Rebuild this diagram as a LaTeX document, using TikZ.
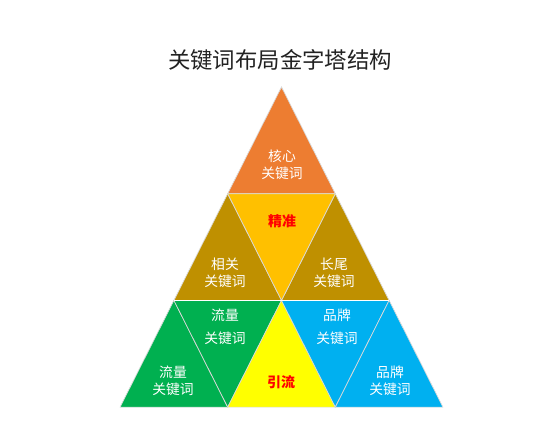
\documentclass[tikz,border=0pt]{standalone}
\usepackage{fontspec}
\setmainfont{Noto Sans CJK SC}
\usepackage{tikz}
\usetikzlibrary{positioning, calc}
\definecolor{coreorange}{HTML}{ED7D31}
\definecolor{accgold}{HTML}{FFC000}
\definecolor{relbrown}{HTML}{BF9000}
\definecolor{flowgreen}{HTML}{00B050}
\definecolor{brandblue}{HTML}{00B0F0}
\definecolor{leadyellow}{HTML}{FFFF00}
\definecolor{titlegray}{HTML}{222222}

\begin{document}
\begin{tikzpicture}[
    x=1pt, y=-1pt,
    tri/.style={draw=white!85!black, line width=0.7pt, line join=miter},
    label/.style={text=white, font=\fontsize{13.8}{17}\selectfont, align=center, inner sep=0pt},
    keyword/.style={text=red, font=\fontsize{14}{17}\selectfont\bfseries, inner sep=0pt}
]
\useasboundingbox (0,0) rectangle (552,440);

% grid points of the pyramid
\foreach \r in {0,...,3} {
    \foreach \k in {0,...,\r} {
        \coordinate (p\r\k) at ({281.5 - \r*53.8 + \k*107.6}, {87 + \r*106.7});
    }
}

% row 1
\fill[tri, fill=coreorange] (p00) -- (p10) -- (p11) -- cycle;

% row 2
\fill[tri, fill=relbrown] (p10) -- (p20) -- (p21) -- cycle;
\fill[tri, fill=relbrown] (p11) -- (p21) -- (p22) -- cycle;
\fill[tri, fill=accgold] (p10) -- (p11) -- (p21) -- cycle;

% row 3
\fill[tri, fill=flowgreen] (p20) -- (p30) -- (p31) -- cycle;
\fill[tri, fill=flowgreen] (p20) -- (p21) -- (p31) -- cycle;
\fill[tri, fill=leadyellow] (p21) -- (p31) -- (p32) -- cycle;
\fill[tri, fill=brandblue] (p21) -- (p22) -- (p32) -- cycle;
\fill[tri, fill=brandblue] (p22) -- (p32) -- (p33) -- cycle;

% white gap between rows 2 and 3
\draw[white, line width=1.6pt] (p20) -- (p22);

\node[text=titlegray, font=\fontsize{22.4}{26}\selectfont] (title) at (280,60) {关键词布局金字塔结构};

\node[label] (core) at (282,165) {核心\\关键词};
\node[keyword] (precise) at (282,221) {精准};
\node[label] (related) at (225,273) {相关\\关键词};
\node[label] (longtail) at (334,273) {长尾\\关键词};
\node[label] (flowup) at (225,327) {流量\\[6pt]关键词};
\node[label] (brandup) at (337,327) {品牌\\[6pt]关键词};
\node[label] (flowlow) at (173,381) {流量\\关键词};
\node[keyword] (lead) at (281,382) {引流};
\node[label] (brandlow) at (390,381) {品牌\\关键词};

\end{tikzpicture}
\end{document}
